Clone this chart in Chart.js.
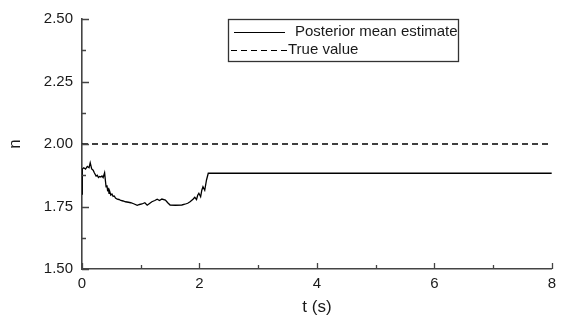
<!DOCTYPE html>
<html>
<head>
<meta charset="utf-8">
<script src="https://cdn.jsdelivr.net/npm/chart.js@4/dist/chart.umd.min.js"></script>
<style>
  html, body { margin: 0; padding: 0; background: #fff; }
  #wrap { width: 562px; height: 320px; }
</style>
</head>
<body>
<div id="wrap"><canvas id="nChart" width="562" height="320"></canvas></div>
<script>
// posterior mean estimate of n over time
const timeValues = [0, 0.005, 0.03, 0.06, 0.09, 0.12, 0.14, 0.165, 0.19, 0.21, 0.24, 0.26, 0.28, 0.3, 0.32, 0.34, 0.36, 0.385, 0.4, 0.41,
  0.425, 0.435, 0.45, 0.46, 0.475, 0.49, 0.51, 0.53, 0.55, 0.57, 0.6, 0.63, 0.66, 0.7, 0.74, 0.79, 0.83, 0.88, 0.94, 0.98,
  1.02, 1.07, 1.11, 1.15, 1.19, 1.24, 1.28, 1.32, 1.36, 1.42, 1.46, 1.5, 1.59, 1.7, 1.75, 1.8, 1.84, 1.87, 1.89, 1.92,
  1.95, 1.97, 1.99, 2.02, 2.04, 2.06, 2.09, 2.12, 2.15, 8];
const estimateValues = [1.80, 1.90, 1.905, 1.90, 1.91, 1.905, 1.925, 1.90, 1.895, 1.885, 1.872, 1.875, 1.866, 1.870, 1.868, 1.872, 1.866, 1.885, 1.85, 1.829,
  1.835, 1.815, 1.82, 1.803, 1.808, 1.796, 1.80, 1.79, 1.792, 1.784, 1.779, 1.778, 1.774, 1.772, 1.769, 1.767, 1.765, 1.761, 1.755, 1.758,
  1.760, 1.765, 1.755, 1.762, 1.769, 1.774, 1.779, 1.774, 1.780, 1.776, 1.765, 1.756, 1.755, 1.756, 1.759, 1.763, 1.769, 1.775, 1.779, 1.787,
  1.778, 1.795, 1.803, 1.789, 1.815, 1.829, 1.815, 1.856, 1.883, 1.883];
const trueTimes = [0, 8];
const trueValues = [2.0, 2.0];

const xTicks = [0, 2, 4, 6, 8];
const xMinorTicks = [1, 3, 5, 7];
const yTicks = [1.5, 1.75, 2.0, 2.25, 2.5];
const yMinorTicks = [1.625, 1.875, 2.125, 2.375];

const FONT = "'Liberation Sans', Arial, sans-serif";
const AXIS_COLOR = '#444';
const TEXT_COLOR = '#1a1a1a';

// inward tick marks + boxed legend
const decorPlugin = {
  id: 'decor',
  afterDraw(chart) {
    const ctx = chart.ctx;
    const xs = chart.scales.x, ys = chart.scales.y;
    const area = chart.chartArea;
    ctx.save();
    ctx.strokeStyle = AXIS_COLOR;
    ctx.lineWidth = 1.3;
    ctx.beginPath();
    xTicks.forEach(v => { const px = Math.round(xs.getPixelForValue(v)) + 0.5; ctx.moveTo(px, area.bottom); ctx.lineTo(px, area.bottom - 6); });
    xMinorTicks.forEach(v => { const px = Math.round(xs.getPixelForValue(v)) + 0.5; ctx.moveTo(px, area.bottom); ctx.lineTo(px, area.bottom - 4); });
    yTicks.forEach(v => { const py = Math.round(ys.getPixelForValue(v)) + 0.5; ctx.moveTo(area.left, py); ctx.lineTo(area.left + 7, py); });
    yMinorTicks.forEach(v => { const py = Math.round(ys.getPixelForValue(v)) + 0.5; ctx.moveTo(area.left, py); ctx.lineTo(area.left + 4, py); });
    ctx.stroke();

    // legend box
    const bx = 228.5, by = 19.5, bw = 230, bh = 42;
    ctx.lineWidth = 1.3;
    ctx.strokeStyle = '#333';
    ctx.fillStyle = '#fff';
    ctx.fillRect(bx, by, bw, bh);
    ctx.strokeRect(bx, by, bw, bh);

    const sets = chart.data.datasets;
    ctx.font = '15px ' + FONT;
    ctx.fillStyle = TEXT_COLOR;
    ctx.textBaseline = 'middle';
    ctx.textAlign = 'left';
    // row 1: solid
    ctx.strokeStyle = '#000';
    ctx.lineWidth = 1.2;
    ctx.setLineDash([]);
    ctx.beginPath(); ctx.moveTo(234, 32.5); ctx.lineTo(285, 32.5); ctx.stroke();
    ctx.fillText(sets[0].label, 295, 32);
    // row 2: dashed
    ctx.setLineDash(sets[1].borderDash);
    ctx.beginPath(); ctx.moveTo(231, 50.5); ctx.lineTo(287, 50.5); ctx.stroke();
    ctx.setLineDash([]);
    ctx.fillText(sets[1].label, 288, 50);
    ctx.restore();
  }
};

const ctx = document.getElementById('nChart').getContext('2d');
new Chart(ctx, {
  type: 'line',
  data: {
    datasets: [
      {
        label: 'Posterior mean estimate',
        data: timeValues.map((t, i) => ({ x: t, y: estimateValues[i] })),
        borderColor: '#000',
        borderWidth: 1.3,
        pointRadius: 0,
        tension: 0,
        fill: false
      },
      {
        label: 'True value',
        data: trueTimes.map((t, i) => ({ x: t, y: trueValues[i] })),
        borderColor: '#000',
        borderWidth: 1.4,
        borderDash: [6, 4],
        pointRadius: 0,
        fill: false
      }
    ]
  },
  options: {
    responsive: false,
    animation: false,
    devicePixelRatio: 1,
    layout: { padding: { left: 0, right: 4, top: 19, bottom: 0 } },
    plugins: { legend: { display: false }, tooltip: { enabled: false } },
    scales: {
      x: {
        type: 'linear',
        min: 0,
        max: 8,
        afterFit: s => { s.height = 51; },
        afterBuildTicks: s => { s.ticks = xTicks.map(v => ({ value: v })); },
        grid: { display: false, drawTicks: false },
        border: { display: true, color: AXIS_COLOR, width: 1.6 },
        ticks: { padding: 6, color: TEXT_COLOR, font: { family: FONT, size: 15 }, maxRotation: 0, callback: v => String(v) },
        title: { display: true, text: 't (s)', color: TEXT_COLOR, font: { family: FONT, size: 17 }, padding: 2 }
      },
      y: {
        type: 'linear',
        min: 1.5,
        max: 2.5,
        afterFit: s => { s.width = 82; },
        afterBuildTicks: s => { s.ticks = yTicks.map(v => ({ value: v })); },
        grid: { display: false, drawTicks: false },
        border: { display: true, color: AXIS_COLOR, width: 1.6 },
        ticks: { padding: 9, color: TEXT_COLOR, font: { family: FONT, size: 15 }, callback: v => v.toFixed(2) },
        title: { display: true, text: 'n', color: TEXT_COLOR, font: { family: FONT, size: 17 }, padding: 5 }
      }
    }
  },
  plugins: [decorPlugin]
});
</script>
</body>
</html>
